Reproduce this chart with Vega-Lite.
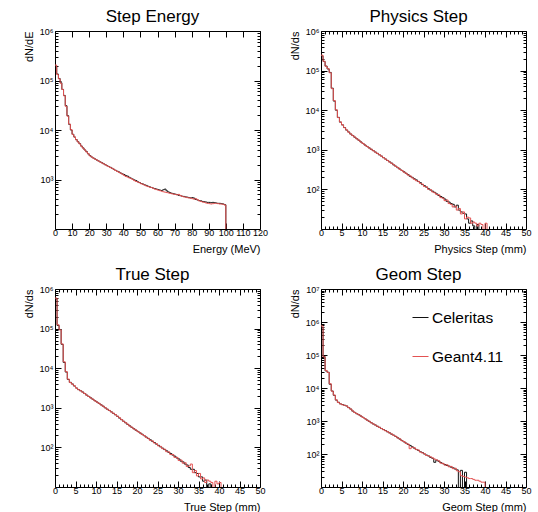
{
"$schema":"https://vega.github.io/schema/vega-lite/v6.json",
"background":"white",
"padding":{"left":22,"top":7,"right":4,"bottom":2},
"config":{
 "font":"Liberation Sans",
 "view":{"stroke":"black","strokeWidth":1},
 "axis":{"domain":false,"grid":false,"tickColor":"black","tickWidth":1,"labelColor":"black","labelFont":"Liberation Sans","labelFontSize":9,"titleFont":"Liberation Sans","titleFontSize":11,"titleFontWeight":"normal","titleColor":"black","labelFlush":false,"labelOverlap":false,"labelBound":false,"minExtent":0,"maxExtent":200},
 "title":{"font":"Liberation Sans","fontSize":17,"fontWeight":"normal","color":"black","anchor":"middle","baseline":"alphabetic","offset":1,"dx":-5},
 "line":{"strokeWidth":1}
},
"datasets":{
"E":[{"x":0,"C":195000,"G4":205000},{"x":1,"C":135000,"G4":132000},{"x":2,"C":110000,"G4":108000},{"x":3,"C":90000,"G4":88000},{"x":4,"C":66000,"G4":66000},{"x":5,"C":50000,"G4":49000},{"x":6,"C":31000,"G4":30000},{"x":7,"C":19500,"G4":19000},{"x":8,"C":13000,"G4":13200},{"x":9,"C":10000,"G4":10200},{"x":10,"C":8200,"G4":8100},{"x":11,"C":7200,"G4":7250},{"x":12,"C":6400,"G4":6350},{"x":13,"C":5800,"G4":5750},{"x":14,"C":5300,"G4":5250},{"x":15,"C":4750,"G4":4700},{"x":16,"C":4350,"G4":4300},{"x":17,"C":3950,"G4":3950},{"x":18,"C":3650,"G4":3600},{"x":19,"C":3300,"G4":3320},{"x":20,"C":3050,"G4":3000},{"x":21,"C":2850,"G4":2860},{"x":22,"C":2720,"G4":2700},{"x":23,"C":2600,"G4":2580},{"x":24,"C":2470,"G4":2490},{"x":25,"C":2370,"G4":2360},{"x":26,"C":2270,"G4":2260},{"x":27,"C":2180,"G4":2160},{"x":28,"C":2080,"G4":2070},{"x":29,"C":1990,"G4":1980},{"x":30,"C":1910,"G4":1890},{"x":31,"C":1830,"G4":1820},{"x":32,"C":1760,"G4":1740},{"x":33,"C":1680,"G4":1680},{"x":34,"C":1600,"G4":1610},{"x":35,"C":1530,"G4":1520},{"x":36,"C":1470,"G4":1460},{"x":37,"C":1420,"G4":1390},{"x":38,"C":1350,"G4":1340},{"x":39,"C":1300,"G4":1280},{"x":40,"C":1260,"G4":1210},{"x":41,"C":1200,"G4":1150},{"x":42,"C":1170,"G4":1120},{"x":43,"C":1110,"G4":1080},{"x":44,"C":1060,"G4":1050},{"x":45,"C":1020,"G4":1000},{"x":46,"C":980,"G4":950},{"x":47,"C":950,"G4":910},{"x":48,"C":900,"G4":890},{"x":49,"C":870,"G4":860},{"x":50,"C":830,"G4":820},{"x":51,"C":810,"G4":800},{"x":52,"C":780,"G4":770},{"x":53,"C":760,"G4":740},{"x":54,"C":730,"G4":720},{"x":55,"C":710,"G4":700},{"x":56,"C":690,"G4":690},{"x":57,"C":670,"G4":665},{"x":58,"C":655,"G4":640},{"x":59,"C":640,"G4":625},{"x":60,"C":625,"G4":610},{"x":61,"C":610,"G4":595},{"x":62,"C":600,"G4":580},{"x":63,"C":620,"G4":565},{"x":64,"C":640,"G4":555},{"x":65,"C":590,"G4":545},{"x":66,"C":560,"G4":535},{"x":67,"C":540,"G4":525},{"x":68,"C":525,"G4":515},{"x":69,"C":515,"G4":505},{"x":70,"C":505,"G4":500},{"x":71,"C":495,"G4":490},{"x":72,"C":480,"G4":500},{"x":73,"C":470,"G4":475},{"x":74,"C":460,"G4":455},{"x":75,"C":455,"G4":445},{"x":76,"C":445,"G4":440},{"x":77,"C":440,"G4":430},{"x":78,"C":430,"G4":425},{"x":79,"C":425,"G4":420},{"x":80,"C":430,"G4":410},{"x":81,"C":420,"G4":400},{"x":82,"C":395,"G4":410},{"x":83,"C":385,"G4":390},{"x":84,"C":375,"G4":370},{"x":85,"C":370,"G4":360},{"x":86,"C":360,"G4":350},{"x":87,"C":355,"G4":345},{"x":88,"C":350,"G4":335},{"x":89,"C":345,"G4":330},{"x":90,"C":345,"G4":325},{"x":91,"C":340,"G4":320},{"x":92,"C":345,"G4":325},{"x":93,"C":340,"G4":330},{"x":94,"C":335,"G4":330},{"x":95,"C":330,"G4":325},{"x":96,"C":330,"G4":320},{"x":97,"C":325,"G4":320},{"x":98,"C":320,"G4":315},{"x":99,"C":310,"G4":305},{"x":100,"C":1,"G4":1},{"x":120,"C":1,"G4":1}],
"P":[{"x":0,"C":235000,"G4":245000},{"x":0.5,"C":170000,"G4":172000},{"x":1,"C":130000,"G4":128000},{"x":1.5,"C":110000,"G4":112000},{"x":2,"C":90000,"G4":88000},{"x":2.5,"C":36000,"G4":35000},{"x":3,"C":17000,"G4":17500},{"x":3.5,"C":10000,"G4":10200},{"x":4,"C":6600,"G4":6500},{"x":4.5,"C":5000,"G4":5050},{"x":5,"C":4250,"G4":4270},{"x":5.5,"C":3650,"G4":3620},{"x":6,"C":3150,"G4":3180},{"x":6.5,"C":2820,"G4":2800},{"x":7,"C":2500,"G4":2520},{"x":7.5,"C":2300,"G4":2280},{"x":8,"C":2080,"G4":2100},{"x":8.5,"C":1900,"G4":1890},{"x":9,"C":1740,"G4":1750},{"x":9.5,"C":1580,"G4":1570},{"x":10,"C":1440,"G4":1450},{"x":10.5,"C":1320,"G4":1310},{"x":11,"C":1210,"G4":1220},{"x":11.5,"C":1120,"G4":1110},{"x":12,"C":1030,"G4":1040},{"x":12.5,"C":955,"G4":950},{"x":13,"C":880,"G4":875},{"x":13.5,"C":815,"G4":810},{"x":14,"C":745,"G4":755},{"x":14.5,"C":695,"G4":690},{"x":15,"C":630,"G4":635},{"x":15.5,"C":585,"G4":580},{"x":16,"C":535,"G4":540},{"x":16.5,"C":495,"G4":490},{"x":17,"C":460,"G4":455},{"x":17.5,"C":415,"G4":420},{"x":18,"C":385,"G4":380},{"x":18.5,"C":352,"G4":358},{"x":19,"C":326,"G4":320},{"x":19.5,"C":300,"G4":302},{"x":20,"C":278,"G4":272},{"x":20.5,"C":255,"G4":256},{"x":21,"C":236,"G4":230},{"x":21.5,"C":214,"G4":220},{"x":22,"C":202,"G4":196},{"x":22.5,"C":186,"G4":180},{"x":23,"C":174,"G4":166},{"x":23.5,"C":158,"G4":160},{"x":24,"C":148,"G4":142},{"x":24.5,"C":132,"G4":136},{"x":25,"C":124,"G4":118},{"x":25.5,"C":114,"G4":116},{"x":26,"C":104,"G4":100},{"x":26.5,"C":96,"G4":98},{"x":27,"C":90,"G4":86},{"x":27.5,"C":84,"G4":82},{"x":28,"C":77,"G4":74},{"x":28.5,"C":70,"G4":73},{"x":29,"C":66,"G4":62},{"x":29.5,"C":62,"G4":60},{"x":30,"C":57,"G4":52},{"x":30.5,"C":50,"G4":54},{"x":31,"C":48,"G4":44},{"x":31.5,"C":44,"G4":42},{"x":32,"C":42,"G4":36},{"x":32.5,"C":36,"G4":38},{"x":33,"C":40,"G4":30},{"x":33.5,"C":30,"G4":33},{"x":34,"C":27,"G4":24},{"x":34.5,"C":25,"G4":27},{"x":35,"C":24,"G4":18},{"x":35.5,"C":18,"G4":20},{"x":36,"C":14,"G4":19},{"x":36.5,"C":16,"G4":14},{"x":37,"C":12,"G4":15},{"x":37.5,"C":1,"G4":14},{"x":38,"C":13,"G4":12},{"x":38.5,"C":1,"G4":14},{"x":39,"C":1,"G4":13},{"x":39.5,"C":1,"G4":1},{"x":40,"C":1,"G4":14},{"x":40.5,"C":1,"G4":1},{"x":50,"C":1,"G4":1}],
"T":[{"x":0,"C":560000,"G4":590000},{"x":0.5,"C":120000,"G4":125000},{"x":1,"C":95000,"G4":93000},{"x":1.5,"C":40000,"G4":41000},{"x":2,"C":14000,"G4":14500},{"x":2.5,"C":8000,"G4":8200},{"x":3,"C":5200,"G4":5300},{"x":3.5,"C":4400,"G4":4350},{"x":4,"C":4000,"G4":3950},{"x":4.5,"C":3550,"G4":3600},{"x":5,"C":3160,"G4":3150},{"x":5.5,"C":2880,"G4":2870},{"x":6,"C":2690,"G4":2700},{"x":6.5,"C":2510,"G4":2480},{"x":7,"C":2290,"G4":2300},{"x":7.5,"C":2090,"G4":2080},{"x":8,"C":1930,"G4":1940},{"x":8.5,"C":1780,"G4":1770},{"x":9,"C":1640,"G4":1650},{"x":9.5,"C":1510,"G4":1500},{"x":10,"C":1400,"G4":1390},{"x":10.5,"C":1290,"G4":1300},{"x":11,"C":1190,"G4":1180},{"x":11.5,"C":1100,"G4":1100},{"x":12,"C":1000,"G4":1010},{"x":12.5,"C":925,"G4":920},{"x":13,"C":855,"G4":860},{"x":13.5,"C":790,"G4":785},{"x":14,"C":725,"G4":730},{"x":14.5,"C":665,"G4":670},{"x":15,"C":610,"G4":615},{"x":15.5,"C":550,"G4":560},{"x":16,"C":500,"G4":505},{"x":16.5,"C":457,"G4":455},{"x":17,"C":417,"G4":420},{"x":17.5,"C":380,"G4":385},{"x":18,"C":350,"G4":345},{"x":18.5,"C":320,"G4":324},{"x":19,"C":296,"G4":292},{"x":19.5,"C":272,"G4":276},{"x":20,"C":253,"G4":249},{"x":20.5,"C":232,"G4":234},{"x":21,"C":216,"G4":212},{"x":21.5,"C":198,"G4":200},{"x":22,"C":183,"G4":179},{"x":22.5,"C":168,"G4":170},{"x":23,"C":156,"G4":151},{"x":23.5,"C":143,"G4":146},{"x":24,"C":133,"G4":129},{"x":24.5,"C":121,"G4":124},{"x":25,"C":113,"G4":109},{"x":25.5,"C":103,"G4":106},{"x":26,"C":96,"G4":93},{"x":26.5,"C":88,"G4":90},{"x":27,"C":82,"G4":78},{"x":27.5,"C":75,"G4":77},{"x":28,"C":70,"G4":66},{"x":28.5,"C":64,"G4":66},{"x":29,"C":60,"G4":56},{"x":29.5,"C":54,"G4":56},{"x":30,"C":51,"G4":47},{"x":30.5,"C":45,"G4":48},{"x":31,"C":43,"G4":40},{"x":31.5,"C":38,"G4":41},{"x":32,"C":36,"G4":33},{"x":32.5,"C":31,"G4":34},{"x":33,"C":28,"G4":38},{"x":33.5,"C":28,"G4":23},{"x":34,"C":23,"G4":26},{"x":34.5,"C":22,"G4":19},{"x":35,"C":18,"G4":22},{"x":35.5,"C":18,"G4":16},{"x":36,"C":14,"G4":17},{"x":36.5,"C":15,"G4":13},{"x":37,"C":1,"G4":15},{"x":37.5,"C":12,"G4":14},{"x":38,"C":1,"G4":13},{"x":38.5,"C":1,"G4":1},{"x":39,"C":1,"G4":14},{"x":39.5,"C":1,"G4":12},{"x":40,"C":1,"G4":13},{"x":40.5,"C":1,"G4":1},{"x":50,"C":1,"G4":1}],
"G":[{"x":0,"C":680000,"G4":760000},{"x":0.5,"C":90000,"G4":88000},{"x":1,"C":33000,"G4":34000},{"x":1.5,"C":30000,"G4":29500},{"x":2,"C":13000,"G4":13500},{"x":2.5,"C":8100,"G4":8000},{"x":3,"C":6000,"G4":6100},{"x":3.5,"C":4300,"G4":4350},{"x":4,"C":3700,"G4":3650},{"x":4.5,"C":3300,"G4":3320},{"x":5,"C":3150,"G4":3100},{"x":5.5,"C":3000,"G4":2980},{"x":6,"C":2850,"G4":2870},{"x":6.5,"C":2550,"G4":2540},{"x":7,"C":2300,"G4":2320},{"x":7.5,"C":2000,"G4":2020},{"x":8,"C":1820,"G4":1800},{"x":8.5,"C":1660,"G4":1670},{"x":9,"C":1550,"G4":1540},{"x":9.5,"C":1410,"G4":1420},{"x":10,"C":1290,"G4":1280},{"x":10.5,"C":1175,"G4":1180},{"x":11,"C":1070,"G4":1060},{"x":11.5,"C":977,"G4":985},{"x":12,"C":890,"G4":885},{"x":12.5,"C":813,"G4":820},{"x":13,"C":759,"G4":750},{"x":13.5,"C":692,"G4":700},{"x":14,"C":646,"G4":640},{"x":14.5,"C":589,"G4":595},{"x":15,"C":550,"G4":545},{"x":15.5,"C":513,"G4":505},{"x":16,"C":468,"G4":475},{"x":16.5,"C":437,"G4":430},{"x":17,"C":398,"G4":405},{"x":17.5,"C":372,"G4":365},{"x":18,"C":339,"G4":345},{"x":18.5,"C":309,"G4":305},{"x":19,"C":282,"G4":288},{"x":19.5,"C":257,"G4":252},{"x":20,"C":234,"G4":238},{"x":20.5,"C":214,"G4":210},{"x":21,"C":195,"G4":200},{"x":21.5,"C":182,"G4":145},{"x":22,"C":166,"G4":160},{"x":22.5,"C":151,"G4":155},{"x":23,"C":138,"G4":136},{"x":23.5,"C":129,"G4":132},{"x":24,"C":117,"G4":115},{"x":24.5,"C":110,"G4":108},{"x":25,"C":100,"G4":102},{"x":25.5,"C":93,"G4":90},{"x":26,"C":87,"G4":88},{"x":26.5,"C":79,"G4":82},{"x":27,"C":74,"G4":76},{"x":27.5,"C":56,"G4":70},{"x":28,"C":65,"G4":66},{"x":28.5,"C":60,"G4":62},{"x":29,"C":55,"G4":53},{"x":29.5,"C":51,"G4":52},{"x":30,"C":48,"G4":46},{"x":30.5,"C":45,"G4":47},{"x":31,"C":43,"G4":41},{"x":31.5,"C":40,"G4":42},{"x":32,"C":38,"G4":36},{"x":32.5,"C":35,"G4":37},{"x":33,"C":33,"G4":31},{"x":33.5,"C":1,"G4":29},{"x":34,"C":32,"G4":22},{"x":34.5,"C":1,"G4":21},{"x":35,"C":28,"G4":20},{"x":35.5,"C":1,"G4":19},{"x":36,"C":1,"G4":18},{"x":36.5,"C":1,"G4":18},{"x":37,"C":1,"G4":17},{"x":37.5,"C":1,"G4":16},{"x":38,"C":1,"G4":16},{"x":38.5,"C":1,"G4":15},{"x":39,"C":1,"G4":14},{"x":39.5,"C":1,"G4":14},{"x":40,"C":1,"G4":1},{"x":50,"C":1,"G4":1}]
},
"columns":2,
"spacing":{"row":60,"column":61},
"bounds":"flush",
"resolve":{"legend":{"color":"independent"}},
"concat":[
{
 "width":205,"height":198,
 "title":{"text":"Step Energy","fontWeight":"normal"},
 "data":{"name":"E"},
 "transform":[{"fold":["C","G4"],"as":["s","v"]}],
 "resolve":{"axis":{"x":"independent","y":"independent"}},
 "layer":[
  {"mark":{"type":"line","interpolate":"step-after","clip":true},
   "encoding":{
    "x":{"field":"x","type":"quantitative","scale":{"domain":[0,120],"nice":false,"zero":false},"axis":{"orient":"bottom","values":[0,10,20,30,40,50,60,70,80,90,100,110,120],"tickSize":-6,"labelPadding":5,"title":"Energy (MeV)","titleAnchor":"end","titlePadding":6}},
    "y":{"field":"v","type":"quantitative","scale":{"type":"log","domain":[100,1000000],"nice":false},"axis":{"orient":"left","values":[1000,10000,100000,1000000],"tickSize":-6,"labelPadding":8,"labelExpr":"'10' + ['⁰','¹','²','³','⁴','⁵','⁶','⁷'][round(log(datum.value)/LN10)]","title":"dN/dE","titleAnchor":"end","titlePadding":5}},
    "color":{"field":"s","type":"nominal","scale":{"domain":["C","G4"],"range":["#111111","#e35252"]},"legend":null}}},
  {"mark":{"type":"line","clip":true,"opacity":0},
   "encoding":{
    "x":{"field":"x","type":"quantitative","scale":{"domain":[0,120],"nice":false,"zero":false},"axis":{"orient":"top","values":[0,10,20,30,40,50,60,70,80,90,100,110,120],"tickSize":-6,"labels":false,"title":null}},
    "y":{"field":"v","type":"quantitative","scale":{"type":"log","domain":[100,1000000],"nice":false},"axis":{"orient":"left","values":[200,300,400,500,600,700,800,900,2000,3000,4000,5000,6000,7000,8000,9000,20000,30000,40000,50000,60000,70000,80000,90000,200000,300000,400000,500000,600000,700000,800000,900000],"tickSize":-3,"labels":false,"title":null}}}},
  {"mark":{"type":"line","clip":true,"opacity":0},
   "encoding":{
    "x":{"field":"x","type":"quantitative","scale":{"domain":[0,120],"nice":false,"zero":false},"axis":null},
    "y":{"field":"v","type":"quantitative","scale":{"type":"log","domain":[100,1000000],"nice":false},"axis":{"orient":"right","values":[1000,10000,100000,1000000],"tickSize":-6,"labels":false,"title":null}}}},
  {"mark":{"type":"line","clip":true,"opacity":0},
   "encoding":{
    "x":{"field":"x","type":"quantitative","scale":{"domain":[0,120],"nice":false,"zero":false},"axis":null},
    "y":{"field":"v","type":"quantitative","scale":{"type":"log","domain":[100,1000000],"nice":false},"axis":{"orient":"right","values":[200,300,400,500,600,700,800,900,2000,3000,4000,5000,6000,7000,8000,9000,20000,30000,40000,50000,60000,70000,80000,90000,200000,300000,400000,500000,600000,700000,800000,900000],"tickSize":-3,"labels":false,"title":null}}}}
 ]
},
{
 "width":205,"height":198,
 "title":{"text":"Physics Step","fontWeight":"normal"},
 "data":{"name":"P"},
 "transform":[{"fold":["C","G4"],"as":["s","v"]}],
 "resolve":{"axis":{"x":"independent","y":"independent"}},
 "layer":[
  {"mark":{"type":"line","interpolate":"step-after","clip":true},
   "encoding":{
    "x":{"field":"x","type":"quantitative","scale":{"domain":[0,50],"nice":false,"zero":false},"axis":{"orient":"bottom","values":[0,5,10,15,20,25,30,35,40,45,50],"tickSize":-6,"labelPadding":5,"title":"Physics Step (mm)","titleAnchor":"end","titlePadding":6}},
    "y":{"field":"v","type":"quantitative","scale":{"type":"log","domain":[10,1000000],"nice":false},"axis":{"orient":"left","values":[100,1000,10000,100000,1000000],"tickSize":-6,"labelPadding":8,"labelExpr":"'10' + ['⁰','¹','²','³','⁴','⁵','⁶','⁷'][round(log(datum.value)/LN10)]","title":"dN/ds","titleAnchor":"end","titlePadding":5}},
    "color":{"field":"s","type":"nominal","scale":{"domain":["C","G4"],"range":["#111111","#e35252"]},"legend":null}}},
  {"mark":{"type":"line","clip":true,"opacity":0},
   "encoding":{
    "x":{"field":"x","type":"quantitative","scale":{"domain":[0,50],"nice":false,"zero":false},"axis":{"orient":"bottom","values":[1,2,3,4,6,7,8,9,11,12,13,14,16,17,18,19,21,22,23,24,26,27,28,29,31,32,33,34,36,37,38,39,41,42,43,44,46,47,48,49],"tickSize":-3,"labels":false,"title":null}},
    "y":{"field":"v","type":"quantitative","scale":{"type":"log","domain":[10,1000000],"nice":false},"axis":{"orient":"left","values":[20,30,40,50,60,70,80,90,200,300,400,500,600,700,800,900,2000,3000,4000,5000,6000,7000,8000,9000,20000,30000,40000,50000,60000,70000,80000,90000,200000,300000,400000,500000,600000,700000,800000,900000],"tickSize":-3,"labels":false,"title":null}}}},
  {"mark":{"type":"line","clip":true,"opacity":0},
   "encoding":{
    "x":{"field":"x","type":"quantitative","scale":{"domain":[0,50],"nice":false,"zero":false},"axis":{"orient":"top","values":[0,5,10,15,20,25,30,35,40,45,50],"tickSize":-6,"labels":false,"title":null}},
    "y":{"field":"v","type":"quantitative","scale":{"type":"log","domain":[10,1000000],"nice":false},"axis":{"orient":"right","values":[100,1000,10000,100000,1000000],"tickSize":-6,"labels":false,"title":null}}}},
  {"mark":{"type":"line","clip":true,"opacity":0},
   "encoding":{
    "x":{"field":"x","type":"quantitative","scale":{"domain":[0,50],"nice":false,"zero":false},"axis":{"orient":"top","values":[1,2,3,4,6,7,8,9,11,12,13,14,16,17,18,19,21,22,23,24,26,27,28,29,31,32,33,34,36,37,38,39,41,42,43,44,46,47,48,49],"tickSize":-3,"labels":false,"title":null}},
    "y":{"field":"v","type":"quantitative","scale":{"type":"log","domain":[10,1000000],"nice":false},"axis":{"orient":"right","values":[20,30,40,50,60,70,80,90,200,300,400,500,600,700,800,900,2000,3000,4000,5000,6000,7000,8000,9000,20000,30000,40000,50000,60000,70000,80000,90000,200000,300000,400000,500000,600000,700000,800000,900000],"tickSize":-3,"labels":false,"title":null}}}}
 ]
},
{
 "width":205,"height":198,
 "title":{"text":"True Step","fontWeight":"normal"},
 "data":{"name":"T"},
 "transform":[{"fold":["C","G4"],"as":["s","v"]}],
 "resolve":{"axis":{"x":"independent","y":"independent"}},
 "layer":[
  {"mark":{"type":"line","interpolate":"step-after","clip":true},
   "encoding":{
    "x":{"field":"x","type":"quantitative","scale":{"domain":[0,50],"nice":false,"zero":false},"axis":{"orient":"bottom","values":[0,5,10,15,20,25,30,35,40,45,50],"tickSize":-6,"labelPadding":5,"title":"True Step (mm)","titleAnchor":"end","titlePadding":6}},
    "y":{"field":"v","type":"quantitative","scale":{"type":"log","domain":[10,1000000],"nice":false},"axis":{"orient":"left","values":[100,1000,10000,100000,1000000],"tickSize":-6,"labelPadding":8,"labelExpr":"'10' + ['⁰','¹','²','³','⁴','⁵','⁶','⁷'][round(log(datum.value)/LN10)]","title":"dN/ds","titleAnchor":"end","titlePadding":5}},
    "color":{"field":"s","type":"nominal","scale":{"domain":["C","G4"],"range":["#111111","#e35252"]},"legend":null}}},
  {"mark":{"type":"line","clip":true,"opacity":0},
   "encoding":{
    "x":{"field":"x","type":"quantitative","scale":{"domain":[0,50],"nice":false,"zero":false},"axis":{"orient":"bottom","values":[1,2,3,4,6,7,8,9,11,12,13,14,16,17,18,19,21,22,23,24,26,27,28,29,31,32,33,34,36,37,38,39,41,42,43,44,46,47,48,49],"tickSize":-3,"labels":false,"title":null}},
    "y":{"field":"v","type":"quantitative","scale":{"type":"log","domain":[10,1000000],"nice":false},"axis":{"orient":"left","values":[20,30,40,50,60,70,80,90,200,300,400,500,600,700,800,900,2000,3000,4000,5000,6000,7000,8000,9000,20000,30000,40000,50000,60000,70000,80000,90000,200000,300000,400000,500000,600000,700000,800000,900000],"tickSize":-3,"labels":false,"title":null}}}},
  {"mark":{"type":"line","clip":true,"opacity":0},
   "encoding":{
    "x":{"field":"x","type":"quantitative","scale":{"domain":[0,50],"nice":false,"zero":false},"axis":{"orient":"top","values":[0,5,10,15,20,25,30,35,40,45,50],"tickSize":-6,"labels":false,"title":null}},
    "y":{"field":"v","type":"quantitative","scale":{"type":"log","domain":[10,1000000],"nice":false},"axis":{"orient":"right","values":[100,1000,10000,100000,1000000],"tickSize":-6,"labels":false,"title":null}}}},
  {"mark":{"type":"line","clip":true,"opacity":0},
   "encoding":{
    "x":{"field":"x","type":"quantitative","scale":{"domain":[0,50],"nice":false,"zero":false},"axis":{"orient":"top","values":[1,2,3,4,6,7,8,9,11,12,13,14,16,17,18,19,21,22,23,24,26,27,28,29,31,32,33,34,36,37,38,39,41,42,43,44,46,47,48,49],"tickSize":-3,"labels":false,"title":null}},
    "y":{"field":"v","type":"quantitative","scale":{"type":"log","domain":[10,1000000],"nice":false},"axis":{"orient":"right","values":[20,30,40,50,60,70,80,90,200,300,400,500,600,700,800,900,2000,3000,4000,5000,6000,7000,8000,9000,20000,30000,40000,50000,60000,70000,80000,90000,200000,300000,400000,500000,600000,700000,800000,900000],"tickSize":-3,"labels":false,"title":null}}}}
 ]
},
{
 "width":205,"height":198,
 "title":{"text":"Geom Step","fontWeight":"normal"},
 "data":{"name":"G"},
 "transform":[{"fold":["C","G4"],"as":["s","v"]}],
 "resolve":{"axis":{"x":"independent","y":"independent"}},
 "layer":[
  {"mark":{"type":"line","interpolate":"step-after","clip":true},
   "encoding":{
    "x":{"field":"x","type":"quantitative","scale":{"domain":[0,50],"nice":false,"zero":false},"axis":{"orient":"bottom","values":[0,5,10,15,20,25,30,35,40,45,50],"tickSize":-6,"labelPadding":5,"title":"Geom Step (mm)","titleAnchor":"end","titlePadding":6}},
    "y":{"field":"v","type":"quantitative","scale":{"type":"log","domain":[10,10000000],"nice":false},"axis":{"orient":"left","values":[100,1000,10000,100000,1000000,10000000],"tickSize":-6,"labelPadding":8,"labelExpr":"'10' + ['⁰','¹','²','³','⁴','⁵','⁶','⁷'][round(log(datum.value)/LN10)]","title":"dN/ds","titleAnchor":"end","titlePadding":5}},
    "color":{"field":"s","type":"nominal","scale":{"domain":["C","G4"],"range":["#111111","#e35252"]},"legend":{"orient":"none","legendX":91,"legendY":20,"title":null,"padding":0,"labelExpr":"datum.value == 'C' ? 'Celeritas' : 'Geant4.11'","symbolType":"stroke","symbolSize":256,"symbolStrokeWidth":1.2,"labelFont":"Liberation Sans","labelFontSize":15.5,"labelColor":"black","rowPadding":22,"labelOffset":3}}}},
  {"mark":{"type":"line","clip":true,"opacity":0},
   "encoding":{
    "x":{"field":"x","type":"quantitative","scale":{"domain":[0,50],"nice":false,"zero":false},"axis":{"orient":"bottom","values":[1,2,3,4,6,7,8,9,11,12,13,14,16,17,18,19,21,22,23,24,26,27,28,29,31,32,33,34,36,37,38,39,41,42,43,44,46,47,48,49],"tickSize":-3,"labels":false,"title":null}},
    "y":{"field":"v","type":"quantitative","scale":{"type":"log","domain":[10,10000000],"nice":false},"axis":{"orient":"left","values":[20,30,40,50,60,70,80,90,200,300,400,500,600,700,800,900,2000,3000,4000,5000,6000,7000,8000,9000,20000,30000,40000,50000,60000,70000,80000,90000,200000,300000,400000,500000,600000,700000,800000,900000,2000000,3000000,4000000,5000000,6000000,7000000,8000000,9000000],"tickSize":-3,"labels":false,"title":null}}}},
  {"mark":{"type":"line","clip":true,"opacity":0},
   "encoding":{
    "x":{"field":"x","type":"quantitative","scale":{"domain":[0,50],"nice":false,"zero":false},"axis":{"orient":"top","values":[0,5,10,15,20,25,30,35,40,45,50],"tickSize":-6,"labels":false,"title":null}},
    "y":{"field":"v","type":"quantitative","scale":{"type":"log","domain":[10,10000000],"nice":false},"axis":{"orient":"right","values":[100,1000,10000,100000,1000000,10000000],"tickSize":-6,"labels":false,"title":null}}}},
  {"mark":{"type":"line","clip":true,"opacity":0},
   "encoding":{
    "x":{"field":"x","type":"quantitative","scale":{"domain":[0,50],"nice":false,"zero":false},"axis":{"orient":"top","values":[1,2,3,4,6,7,8,9,11,12,13,14,16,17,18,19,21,22,23,24,26,27,28,29,31,32,33,34,36,37,38,39,41,42,43,44,46,47,48,49],"tickSize":-3,"labels":false,"title":null}},
    "y":{"field":"v","type":"quantitative","scale":{"type":"log","domain":[10,10000000],"nice":false},"axis":{"orient":"right","values":[20,30,40,50,60,70,80,90,200,300,400,500,600,700,800,900,2000,3000,4000,5000,6000,7000,8000,9000,20000,30000,40000,50000,60000,70000,80000,90000,200000,300000,400000,500000,600000,700000,800000,900000,2000000,3000000,4000000,5000000,6000000,7000000,8000000,9000000],"tickSize":-3,"labels":false,"title":null}}}}
 ]
}
]
}
